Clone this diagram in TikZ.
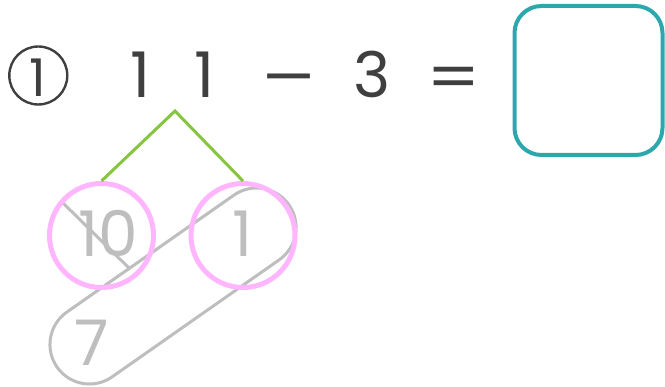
\documentclass[tikz,border=0pt]{standalone}
\usepackage{fontspec}
\setmainfont{Poppins}
\definecolor{ink}{HTML}{3F3F3F}
\definecolor{soft}{HTML}{BEBEBE}
\definecolor{pinkc}{HTML}{FFB6FF}
\definecolor{leaf}{HTML}{86C540}
\definecolor{teal}{HTML}{2CA7AE}
\begin{document}
\begin{tikzpicture}[x=1pt,y=-1pt,
  big/.style={font=\fontsize{63}{63}\selectfont, inner sep=0pt, anchor=base},
  topdigit/.style={big, text=ink},
  lowdigit/.style={big, text=soft},
  ring/.style={circle, draw=pinkc, line width=5pt, minimum size=104pt, inner sep=0pt},
  grayline/.style={draw=soft, line width=3pt}
]
\useasboundingbox (0,0) rectangle (665,387);
% circled number
\node[circle, draw=ink, line width=2.4pt, minimum size=58pt, inner sep=0pt] (num) at (38.3,75.5) {};
\node[font=\fontsize{52}{52}\selectfont, text=ink, inner sep=0pt, anchor=base] (numtxt) at (38.3,96.5) {1};
% top row
\node[topdigit] (d1) at (141,98) {1};
\node[topdigit] (d2) at (205,98) {1};
\node[topdigit, xscale=1.7] (minus) at (289,100) {−};
\node[topdigit] (three) at (372,98) {3};
\node[topdigit, xscale=1.2] (eq) at (454,100) {=};
\node[draw=teal, line width=4pt, rounded corners=27pt, minimum width=148pt,
      minimum height=149pt, inner sep=0pt] (answer) at (588.5,80.5) {};
% decomposition
\coordinate (apex) at (175,111);
% gray capsule and stroke
\node[grayline, rotate=35, rounded corners=39.5pt, minimum width=283pt,
      minimum height=79pt, inner sep=0pt] (capsule) at (173,286) {};
\coordinate (s1) at (63,203);
\coordinate (s2) at (130,269);
\draw[grayline] (s1) -- (s2);
% rings
\node[ring] (ten) at (101.5,235.5) {};
\node[ring] (one) at (243,235.5) {};
\draw[leaf, line width=3pt] (ten.north) -- (apex) -- (one.north);
\node[lowdigit] (tentxt) at (108.5,257) {10};
\node[lowdigit] (onetxt) at (243,257) {1};
\node[lowdigit] (seven) at (92,366) {7};
\end{tikzpicture}
\end{document}
